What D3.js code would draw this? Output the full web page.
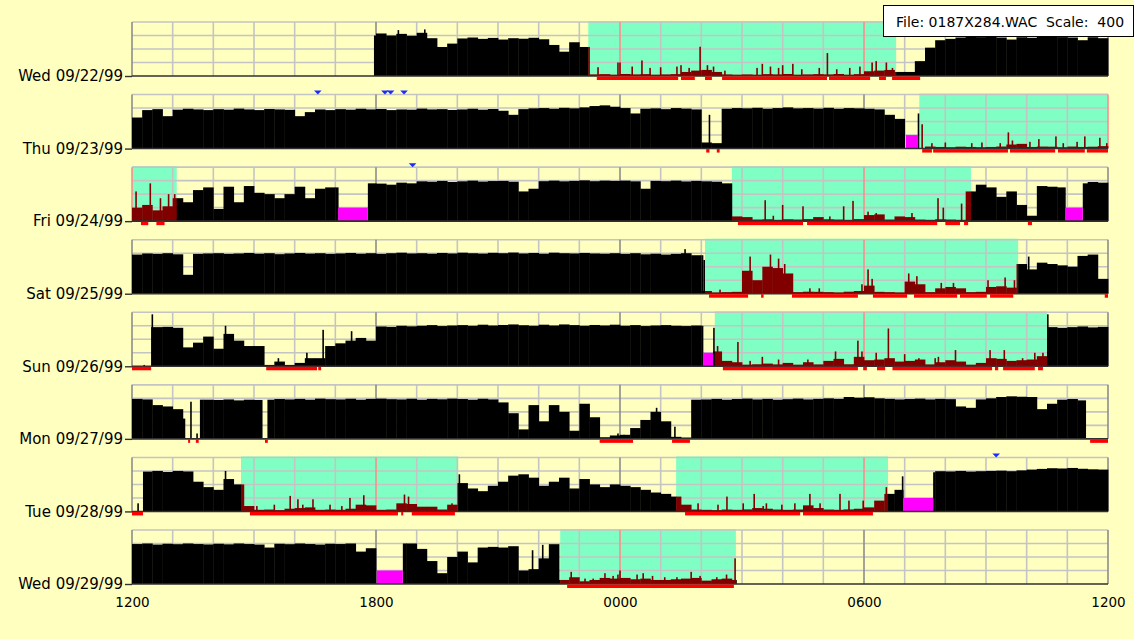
<!DOCTYPE html>
<html><head><meta charset="utf-8">
<script src="https://cdn.jsdelivr.net/npm/d3@7"></script>
<style>html,body{margin:0;padding:0;background:#ffffc0;overflow:hidden}</style>
</head><body>
<script>
// ---------- data ----------
const dayLabels = ["Wed 09/22/99","Thu 09/23/99","Fri 09/24/99","Sat 09/25/99","Sun 09/26/99","Mon 09/27/99","Tue 09/28/99","Wed 09/29/99"];
const xTickValues = [0, 6, 12, 18, 24];           // hours after 12:00
const xTickLabels = ["1200", "1800", "0000", "0600", "1200"];
const legendText = "File: 0187X284.WAC  Scale:  400";
const scaleMax = 400;

// activity counts, 15-minute bins from 12:00 (96 per day)
const act0 = [
0,0,0,0, 0,0,0,0, 0,0,0,0, 0,0,0,0, 0,0,0,0, 0,0,0,300,
315,300,312,298, 320,280,215,240, 278,285,275,282, 270,280,276,283, 272,230,180,250, 215,12,14,10,
15,12,14,10, 12,14,30,40, 45,30,12,10, 12,10,14,12, 15,10,12,14, 12,15,10,14,
35,40,45,30, 30,110,210,265, 275,285,290,288, 292,285,270,287, 283,290,292,288, 285,265,287,280];
const act1 = [
230,285,292,240, 288,295,290,285, 292,288,296,290, 285,293,290,287, 240,270,290,285, 292,288,295,290,
293,285,290,288, 296,290,292,286, 290,295,288,293, 280,250,292,298, 300,295,302,298, 305,315,320,310,
300,260,295,298, 292,300,296,290, 45,40,295,300, 298,302,295,300, 305,298,300,296, 302,295,300,298,
295,290,250,220, 0,0,15,12, 10,14,12,10, 12,15,30,35, 12,15,14,10, 15,12,14,18];
const act2 = [
100,120,80,110, 170,140,230,250, 90,255,140,260, 210,200,170,200, 255,170,240,250, 250,0,0,280,
278,270,285,280, 295,292,298,290, 295,300,293,297, 298,292,220,240, 296,300,295,298, 302,296,300,298,
300,295,240,298, 296,300,294,298, 295,292,280,35, 30,12,14,10, 14,12,15,30, 14,12,10,15,
45,50,12,35, 30,12,10,14, 12,10,220,270, 250,180,220,120, 40,260,255,250, 0,280,290,285];
const act3 = [
290,298,295,300, 292,140,295,298, 300,295,298,302, 296,300,293,298, 302,297,300,295, 298,302,296,300,
295,300,304,298, 300,296,302,298, 304,300,297,303, 300,305,298,302, 296,304,300,298, 302,298,296,300,
295,300,292,296, 290,295,300,285, 20,10,12,14, 170,100,200,190, 150,12,15,14, 12,10,15,20,
60,14,12,10, 90,70,12,40, 50,40,12,14, 50,55,45,220, 180,230,220,210, 200,280,290,110];
const act4 = [
0,290,290,292, 285,140,175,220, 130,240,190,150, 150,10,35,10, 25,60,60,150, 170,190,210,190,
295,292,300,296, 300,305,298,302, 305,300,308,302, 306,310,304,300, 308,302,310,305, 300,306,302,308,
300,305,298,302, 305,300,298,302, 300,110,40,30, 12,15,20,14, 25,12,30,14, 40,55,15,70,
45,50,60,35, 40,50,14,30, 45,35,12,25, 60,55,40,45, 50,75,290,285, 290,295,288,292];
const act5 = [
296,292,250,240, 220,150,290,290, 288,292,285,290, 288,290,295,292, 296,290,298,294, 292,297,290,296,
298,294,292,297, 290,296,293,298, 295,290,297,292, 270,190,70,250, 130,250,200,60, 260,160,12,25,
30,80,140,200, 130,15,10,290, 292,296,290,295, 298,292,296,290, 294,298,292,296, 300,296,310,305,
308,300,296,292, 295,298,292,296, 294,240,230,292, 300,310,315,312, 310,220,260,290, 295,285,0,0];
const act6 = [
298,295,300,292, 300,296,220,180, 160,240,200,40, 12,14,10,20, 25,30,12,14, 12,20,50,45,
12,14,60,55, 35,35,14,50, 210,170,150,190, 220,265,275,250, 190,220,250,170, 240,200,180,200,
190,180,160,140, 130,110,50,14, 12,10,14,12, 15,25,20,14, 12,14,45,25, 14,12,15,20,
30,80,130,160, 0,0,290,298, 296,300,295,298, 300,302,298,304, 310,315,320,318, 322,316,312,310];
const act7 = [
296,300,292,298, 295,300,296,293, 298,294,300,296, 292,270,298,295, 300,296,292,298, 296,300,240,265,
0,0,300,300, 260,170,80,200, 240,160,270,275, 270,280,100,110, 190,295,30,50, 20,30,45,40,
45,35,40,30, 30,35,40,45, 25,35,40,30, 0,0,0,0, 0,0,0,0, 0,0,0,0,
0,0,0,0, 0,0,0,0, 0,0,0,0, 0,0,0,0, 0,0,0,0, 0,0,0,0];
const activity = [act0, act1, act2, act3, act4, act5, act6, act7];

// single-epoch peaks [day, hour, count]
const spikes = [
[0,6.55,340],[0,7.2,345],[0,11.46,65],[0,11.95,100],[0,12.0,100],[0,12.3,70],[0,12.54,115],[0,12.74,60],[0,13.0,65],[0,13.4,70],[0,13.5,80],[0,13.7,60],[0,13.97,217],[0,14.15,80],[0,14.3,70],[0,14.58,40],[0,15.37,60],[0,15.5,90],[0,15.7,70],[0,15.9,60],[0,16.0,80],[0,16.25,90],[0,16.47,50],[0,16.9,60],[0,17.1,170],[0,17.33,50],[0,17.65,60],[0,17.9,70],[0,18.2,100],[0,18.3,110],[0,18.55,100],[0,18.7,60],
[1,14.2,250],[1,19.34,260],[1,19.43,180],[1,19.67,40],[1,20.0,45],[1,20.65,40],[1,20.9,45],[1,21.35,40],[1,21.55,120],[1,21.65,60],[1,22.08,50],[1,22.3,70],[1,22.72,90],[1,22.9,40],[1,23.24,50],[1,23.43,90],[1,23.8,80],[1,23.97,40],
[2,0.1,220],[2,0.45,280],[2,0.7,170],[2,0.9,200],[2,1.05,200],[2,15.57,155],[2,15.77,40],[2,16.0,120],[2,16.5,110],[2,17.16,35],[2,17.5,110],[2,17.73,150],[2,18.1,70],[2,18.3,60],[2,19.18,60],[2,19.82,170],[2,19.95,100],[2,20.4,130],[2,20.53,150],[2,20.6,200],
[3,13.6,330],[3,14.03,285],[3,14.07,250],[3,14.46,30],[3,15.2,275],[3,15.7,290],[3,15.9,260],[3,16.05,220],[3,16.67,40],[3,16.9,40],[3,17.95,70],[3,18.1,180],[3,18.2,110],[3,19.1,150],[3,19.3,130],[3,19.9,80],[3,20.2,80],[3,21.05,100],[3,21.47,120],[3,21.7,100],[3,22.05,275],
[4,0.3,10],[4,0.5,385],[4,2.3,300],[4,3.6,60],[4,4.3,100],[4,4.7,270],[4,5.4,260],[4,14.31,285],[4,14.4,150],[4,14.9,180],[4,15.2,40],[4,15.5,70],[4,15.9,50],[4,16.62,50],[4,17.3,110],[4,17.85,190],[4,17.95,110],[4,18.3,100],[4,18.6,280],[4,19.0,90],[4,19.35,60],[4,19.75,60],[4,19.83,70],[4,20.25,120],[4,21.1,120],[4,21.45,120],[4,21.9,60],[4,22.2,100],[4,22.4,100],[4,22.52,385],
[5,1.45,275],[5,1.6,40],[5,11.95,40],[5,12.1,30],[5,12.9,230],[5,13.35,90],
[6,0.15,60],[6,2.3,300],[6,3.07,40],[6,3.5,50],[6,3.89,115],[6,4.08,90],[6,4.2,50],[6,4.45,90],[6,4.87,50],[6,5.16,40],[6,5.36,100],[6,5.7,120],[6,6.7,125],[6,6.8,110],[6,7.87,60],[6,8.05,275],[6,13.92,60],[6,14.41,50],[6,14.63,110],[6,15.03,60],[6,15.3,130],[6,15.52,40],[6,15.6,60],[6,15.98,50],[6,16.3,60],[6,16.67,130],[6,16.92,60],[6,17.41,130],[6,17.63,80],[6,17.98,80],[6,18.55,180],[6,18.95,260],
[7,9.85,250],[7,10.1,290],[7,10.8,90],[7,11.14,40],[7,11.34,40],[7,11.63,80],[7,11.83,60],[7,11.95,70],[7,12.0,100],[7,12.42,70],[7,12.57,80],[7,12.8,60],[7,13.1,50],[7,13.4,50],[7,13.75,90],[7,13.97,60],[7,14.38,50],[7,14.62,70],[7,14.83,190]
];

// rest intervals (green) [day, startHour, endHour]
const sleepIntervals = [[0,11.22,18.79],[1,19.36,24],[2,0,1.1],[2,14.75,20.63],[3,14.09,21.79],[4,14.33,22.5],[6,2.68,8.02],[6,13.38,18.59],[7,10.53,14.85]];
// off-wrist intervals (magenta)
const offWrist = [[1,19.03,19.33],[2,5.07,5.8],[2,22.95,23.38],[4,14.04,14.29],[6,18.96,19.7],[7,6.02,6.66]];
const offWristLevel = 100;
// intervals with zero activity / no data
const noData = [[0,0,5.95],[4,0,0.47],[5,1.3,1.67],[5,3.2,3.33],[5,23.45,24],[6,0,0.27],[7,14.86,24]];
// sleep-scored epochs (red line under baseline)
const sleepMarks = [
[0,11.43,13.43],[0,13.5,13.84],[0,14.09,14.26],[0,14.51,17.09],[0,17.14,18.15],[0,18.37,18.54],[0,18.69,19.38],
[1,14.12,14.2],[1,14.38,14.45],[1,19.43,19.67],[1,19.7,21.54],[1,21.59,22.7],[1,22.77,23.43],[1,23.48,24],
[2,0.22,0.4],[2,0.6,0.8],[2,14.9,16.5],[2,16.6,19.8],[2,20.0,20.36],[2,20.46,20.56],[2,22.03,22.13],
[3,14.19,15.15],[3,15.47,15.53],[3,16.23,17.85],[3,18.22,19.06],[3,19.23,20.29],[3,20.36,21.02],[3,21.1,21.67],[3,23.92,24],
[4,0,0.47],[4,3.3,4.55],[4,4.58,4.65],[4,14.53,17.85],[4,17.98,18.07],[4,18.32,18.52],[4,18.7,21.15],[4,21.22,21.3],[4,21.42,22.2],[4,22.28,22.4],
[5,1.38,1.41],[5,1.57,1.64],[5,3.27,3.34],[5,11.5,12.32],[5,13.28,13.72],[5,23.56,24],
[6,0,0.27],[6,2.9,6.54],[6,6.62,6.66],[6,6.88,7.94],[6,13.6,16.43],[6,16.5,18.22],
[7,10.7,14.8]
];
// event markers (blue triangles) [day, hour]
const eventMarkers = [[1,4.57],[1,6.22],[1,6.36],[1,6.69],[2,6.9],[6,21.25]];

// ---------- drawing ----------
const W = 1134, H = 639;
const C = {bg:"#ffffc0", green:"#80ffc4", grid:"#c4c4c4", major:"#8c8c8c", pink:"#ff8c8c",
           wake:"#000000", rest:"#800000", off:"#ff00ff", red:"#ff0000", event:"#1a2cff"};
const svg = d3.select("body").append("svg").attr("width", W).attr("height", H);
svg.append("rect").attr("width", W).attr("height", H).attr("fill", C.bg);

const x = d3.scaleLinear().domain([0, 24]).range([132, 1108]);
const band = d3.scaleBand().domain(d3.range(dayLabels.length)).range([22, 584]).paddingInner(0.2559).paddingOuter(0);
const bw = band.bandwidth();

function pieces(day, s, e) {
  const sl = sleepIntervals.filter(d => d[0] === day);
  const ex = offWrist.concat(noData).filter(d => d[0] === day);
  const cuts = [s, e];
  sl.concat(ex).forEach(iv => { [iv[1], iv[2]].forEach(c => { if (c > s && c < e) cuts.push(c); }); });
  cuts.sort((a, b) => a - b);
  const out = [];
  for (let k = 0; k < cuts.length - 1; k++) {
    const a = cuts[k], b = cuts[k + 1];
    if (b - a < 1e-6) continue;
    const m = (a + b) / 2;
    if (ex.some(iv => m > iv[1] && m < iv[2])) continue;
    out.push({a, b, rest: sl.some(iv => m > iv[1] && m < iv[2])});
  }
  return out;
}
const inRest = (day, h) => sleepIntervals.some(iv => iv[0] === day && h >= iv[1] && h <= iv[2]);

dayLabels.forEach((lab, day) => {
  const top = band(day), base = top + bw;
  const y = d3.scaleLinear().domain([0, scaleMax]).range([base, top]);
  const g = svg.append("g");

  // rest shading
  g.selectAll(".rest").data(sleepIntervals.filter(d => d[0] === day)).join("rect")
    .attr("x", d => x(d[1])).attr("width", d => x(d[2]) - x(d[1]))
    .attr("y", top - 1).attr("height", base - top + 1).attr("fill", C.green);

  // horizontal grid
  g.selectAll(".hg").data(d3.range(100, scaleMax + 1, 100)).join("line")
    .attr("x1", x(0)).attr("x2", x(24)).attr("y1", d => y(d)).attr("y2", d => y(d))
    .attr("stroke", C.grid).attr("stroke-width", 1.6);
  // vertical grid
  g.selectAll(".vg").data(d3.range(0, 25).filter(h => h % 6 !== 0)).join("line")
    .attr("x1", d => x(d)).attr("x2", d => x(d)).attr("y1", top).attr("y2", base)
    .attr("stroke", C.grid).attr("stroke-width", 1.6);
  g.selectAll(".mj").data(xTickValues).join("line")
    .attr("x1", d => x(d)).attr("x2", d => x(d)).attr("y1", top).attr("y2", base)
    .attr("stroke", d => inRest(day, d) ? C.pink : C.major).attr("stroke-width", 1.6);

  // activity bars
  const bars = [];
  activity[day].forEach((v, i) => {
    if (v <= 0) return;
    pieces(day, i / 4, (i + 1) / 4).forEach(p => bars.push({a: p.a, b: p.b, rest: p.rest, v}));
  });
  g.selectAll(".bar").data(bars).join("rect")
    .attr("x", d => x(d.a)).attr("width", d => x(d.b) - x(d.a) + 0.4)
    .attr("y", d => y(d.v)).attr("height", d => base - y(d.v))
    .attr("fill", d => d.rest ? C.rest : C.wake);

  // single-epoch peaks
  g.selectAll(".spk").data(spikes.filter(d => d[0] === day)).join("rect")
    .attr("x", d => x(d[1]) - 0.8).attr("width", 1.6)
    .attr("y", d => y(d[2])).attr("height", d => base - y(d[2]))
    .attr("fill", d => inRest(day, d[1]) ? C.rest : C.wake);

  // off-wrist
  g.selectAll(".off").data(offWrist.filter(d => d[0] === day)).join("rect")
    .attr("x", d => x(d[1])).attr("width", d => x(d[2]) - x(d[1]))
    .attr("y", y(offWristLevel)).attr("height", base - y(offWristLevel)).attr("fill", C.off);

  // baseline
  g.append("line").attr("x1", x(0)).attr("x2", x(24)).attr("y1", base).attr("y2", base)
    .attr("stroke", "#303030").attr("stroke-width", 1.6);

  // sleep marks
  g.selectAll(".sm").data(sleepMarks.filter(d => d[0] === day)).join("rect")
    .attr("x", d => x(d[1])).attr("width", d => Math.max(2, x(d[2]) - x(d[1])))
    .attr("y", base + 0.5).attr("height", 3.5).attr("fill", C.red);

  // event markers
  g.selectAll(".ev").data(eventMarkers.filter(d => d[0] === day)).join("path")
    .attr("d", d => { const cx = x(d[1]); return `M${cx - 3.8},${top - 4}L${cx + 3.8},${top - 4}L${cx},${top}Z`; })
    .attr("fill", C.event);
});

// day labels (left axis)
const yDay = d3.scalePoint().domain(dayLabels).range([band(0) + bw, band(dayLabels.length - 1) + bw]).padding(0);
const ay = svg.append("g").attr("transform", `translate(${x(0)},0)`)
  .call(d3.axisLeft(yDay).tickSize(7).tickPadding(2));
ay.select(".domain").remove();
ay.attr("font-family", "DejaVu Sans").attr("font-size", 15);
ay.selectAll(".tick line").attr("stroke", "#303030").attr("stroke-width", 1.4);
ay.selectAll(".tick text").attr("fill", "#000");

// time axis
const ax = svg.append("g").attr("transform", `translate(0,${band(dayLabels.length - 1) + bw})`)
  .call(d3.axisBottom(x).tickValues(xTickValues).tickFormat((d, i) => xTickLabels[i]).tickSize(0).tickPadding(13));
ax.select(".domain").remove();
ax.attr("font-family", "DejaVu Sans").attr("font-size", 13.5);
ax.selectAll(".tick text").attr("fill", "#000");

// legend box
const lg = svg.append("g");
lg.append("rect").attr("x", 883.5).attr("y", 5.5).attr("width", 250).attr("height", 31)
  .attr("fill", "#ffffff").attr("stroke", "#000").attr("stroke-width", 1);
lg.append("text").attr("x", 896).attr("y", 27).attr("font-family", "DejaVu Sans").attr("font-size", 14)
  .style("white-space", "pre").attr("fill", "#000").text(legendText);
</script>
</body></html>
